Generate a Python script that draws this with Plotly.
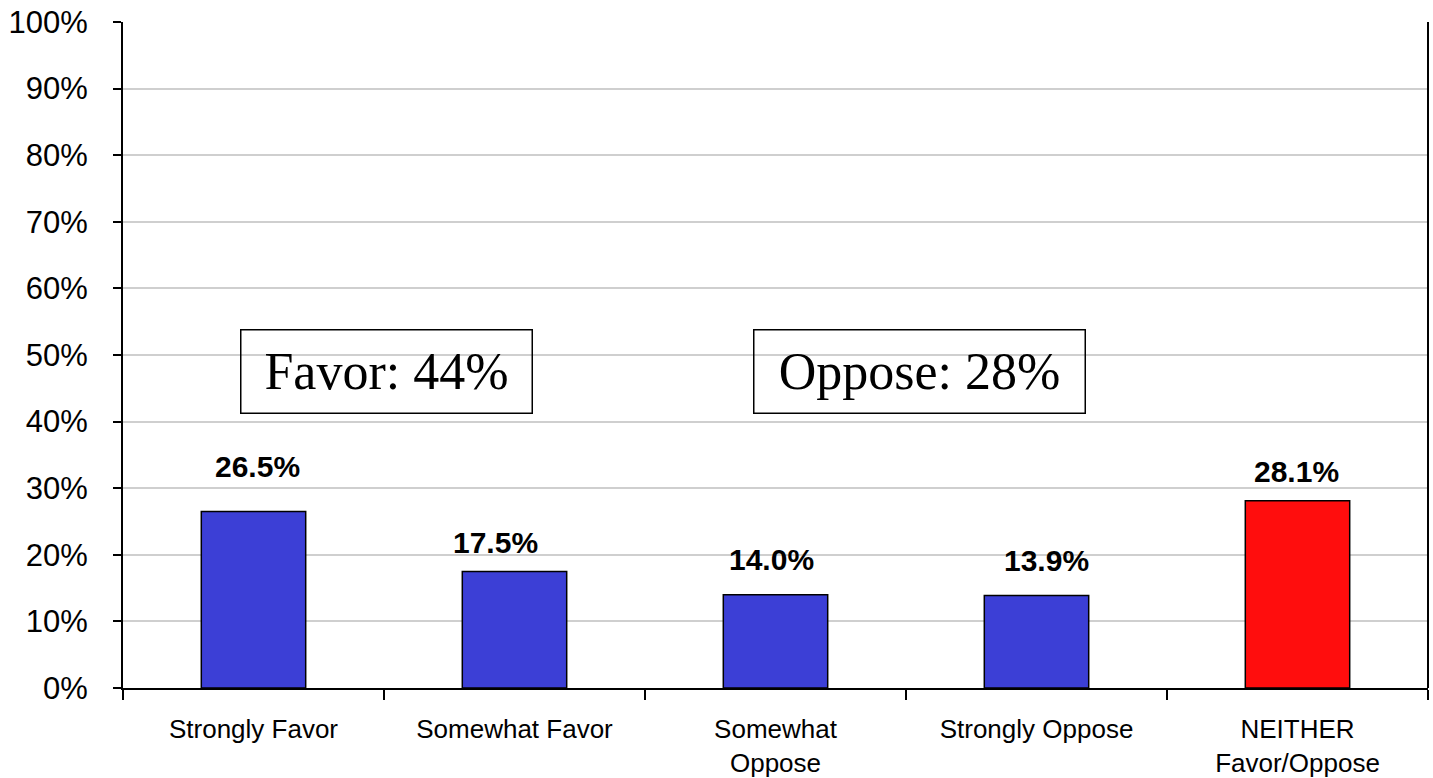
import plotly.graph_objects as go

categories = ["Strongly Favor", "Somewhat Favor", "Somewhat<br>Oppose", "Strongly Oppose", "NEITHER<br>Favor/Oppose"]
values = [26.5, 17.5, 14.0, 13.9, 28.1]
value_labels = ["26.5%", "17.5%", "14.0%", "13.9%", "28.1%"]
bar_colors = ["#3c3fd6", "#3c3fd6", "#3c3fd6", "#3c3fd6", "#ff0d0d"]
label_xshift = [4, -19, -4, 10, -1]
label_yshift = [45, 29, 35, 35, 29]
y_ticks = list(range(0, 101, 10))
y_ticktext = [f"{t}%" for t in y_ticks]
summary_texts = ["Favor: 44%", "Oppose: 28%"]
summary_x = [0.511, 2.55]
summary_w = [288, 328]

fig = go.Figure()
fig.add_trace(go.Bar(
    x=categories, y=values, width=0.4,
    marker=dict(color=bar_colors, line=dict(color="#000000", width=1.5)),
    hoverinfo="skip",
))

for c, v, t, xs, ys in zip(categories, values, value_labels, label_xshift, label_yshift):
    fig.add_annotation(x=c, y=v, text=f"<b>{t}</b>", showarrow=False,
                       xshift=xs, yshift=ys, yanchor="middle",
                       font=dict(family="Liberation Sans, Arial", size=30, color="#000000"))

for t, sx, w in zip(summary_texts, summary_x, summary_w):
    fig.add_annotation(x=sx, y=47.45, xref="x", yref="y", text=t, showarrow=False,
                       font=dict(family="Liberation Serif, Times New Roman", size=52, color="#000000"),
                       bordercolor="#000000", borderwidth=1.5, borderpad=1,
                       width=w, height=80, align="center", valign="middle",
                       bgcolor="rgba(255,255,255,0)")

# right border
fig.add_shape(type="line", xref="paper", yref="paper", x0=1, x1=1, y0=0, y1=1,
              line=dict(color="#000000", width=2))

fig.update_layout(
    width=1433, height=778,
    margin=dict(l=123, r=5, t=22, b=90, autoexpand=False),
    paper_bgcolor="white", plot_bgcolor="white",
    showlegend=False, bargap=0.6,
    xaxis=dict(
        type="category", tickson="boundaries", ticks="outside", ticklen=10,
        tickcolor="#000000", tickwidth=1.5, automargin=False,
        showline=True, linecolor="#000000", linewidth=2,
        showgrid=False, range=[-0.5, 4.5], ticklabelstandoff=17,
        ticklabeloverflow="allow",
        tickfont=dict(family="Liberation Sans, Arial", size=26, color="#000000"),
    ),
    yaxis=dict(
        range=[0, 100], tickvals=y_ticks, ticktext=y_ticktext, automargin=False,
        ticks="outside", ticklen=8, tickcolor="#000000", tickwidth=1.5,
        showline=True, linecolor="#000000", linewidth=2,
        showgrid=True, gridcolor="#cfcfcf", gridwidth=2,
        zeroline=False, ticklabelstandoff=19, ticklabeloverflow="allow",
        tickfont=dict(family="Liberation Sans, Arial", size=31, color="#000000"),
    ),
)

fig.write_html("out.html", config={"displayModeBar": False},
               post_script="document.body.style.margin='0';document.body.style.overflow='hidden';")
